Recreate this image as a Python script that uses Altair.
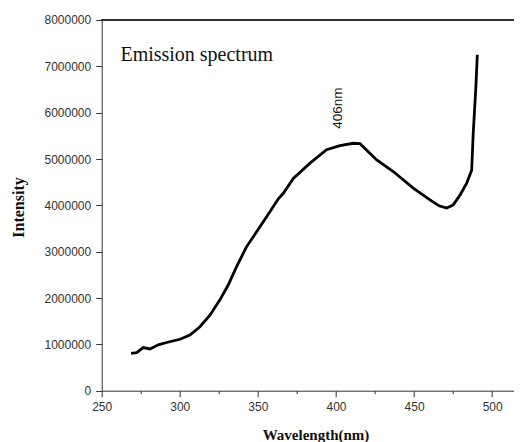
import altair as alt
import pandas as pd

# Spectrum (wavelength in nm, intensity in counts)
wavelength = [268.8, 272.4, 276.6, 280.9, 286.2, 291.6, 300.1, 306.5, 312.9, 319.3,
              325.7, 331.0, 336.4, 342.8, 349.2, 357.7, 363.1, 366.3, 372.7, 383.4,
              394.0, 402.6, 411.1, 415.4, 426.1, 436.7, 449.5, 460.2, 466.0, 470.9,
              475.1, 479.4, 483.7, 486.9, 487.9, 489.6, 490.5]
intensity = [807000, 820000, 930000, 900000, 990000, 1040000, 1110000, 1200000, 1380000, 1630000,
             1960000, 2280000, 2680000, 3110000, 3430000, 3860000, 4140000, 4260000, 4580000, 4910000,
             5200000, 5290000, 5340000, 5330000, 4980000, 4730000, 4370000, 4120000, 3990000, 3940000,
             4010000, 4220000, 4480000, 4760000, 5560000, 6560000, 7250000]

x_ticks = [250, 275, 300, 325, 350, 375, 400, 425, 450, 475, 500]
y_ticks = [0, 500000, 1000000, 1500000, 2000000, 2500000, 3000000, 3500000, 4000000,
           4500000, 5000000, 5500000, 6000000, 6500000, 7000000, 7500000, 8000000]

label_text = ["Emission spectrum"]
label_x = [262.0]
label_y = [7240000]

peak_text = ["406nm"]
peak_x = [401.5]
peak_y = [6100000]

x_domain = [250, 513.8]
y_domain = [0, 8000000]

df = pd.DataFrame({"w": wavelength, "i": intensity})
df_label = pd.DataFrame({"t": label_text, "w": label_x, "i": label_y})
df_peak = pd.DataFrame({"t": peak_text, "w": peak_x, "i": peak_y})

W = 412
H = 370.7

x_axis = alt.Axis(
    values=x_ticks, format="d", labelFlush=False,
    labelExpr="datum.value % 50 === 0 ? datum.label : ''",
    tickSize={"condition": {"test": "datum.value % 50 === 0", "value": 6}, "value": 3},
    labelPadding=5,
    title="Wavelength(nm)", titleFont="Liberation Serif", titleFontWeight="bold",
    titleFontSize=15, titleColor="#111",
    titleX=213.8, titleY=37, titleAlign="center", titleBaseline="top",
)
y_axis = alt.Axis(
    values=y_ticks, format="d", labelFlush=False,
    labelExpr="datum.value % 1000000 === 0 ? datum.label : ''",
    tickSize={"condition": {"test": "datum.value % 1000000 === 0", "value": 6}, "value": 3},
    labelPadding=5,
    title="Intensity", titleFont="Liberation Serif", titleFontWeight="bold",
    titleFontSize=16, titleColor="#111",
    titleX=-83.2, titleY=187, titleAngle=270, titleAlign="center", titleBaseline="middle",
)

xs = alt.Scale(domain=x_domain, nice=False, zero=False)
ys = alt.Scale(domain=y_domain, nice=False)

line = alt.Chart(df).mark_line(color="black", strokeWidth=2.8, clip=True).encode(
    x=alt.X("w:Q", scale=xs, axis=x_axis),
    y=alt.Y("i:Q", scale=ys, axis=y_axis),
)

top_frame = alt.Chart(df).mark_rule(color="#333", strokeWidth=1).encode(
    x=alt.value(0), x2=alt.value(W), y=alt.value(0)
)

label = alt.Chart(df_label).mark_text(
    font="Liberation Serif", fontSize=20, align="left", baseline="middle", color="#111"
).encode(x=alt.X("w:Q", scale=xs), y=alt.Y("i:Q", scale=ys), text="t:N")

peak = alt.Chart(df_peak).mark_text(
    font="Liberation Sans", fontSize=13.5, angle=270, align="center", baseline="middle", color="#111"
).encode(x=alt.X("w:Q", scale=xs), y=alt.Y("i:Q", scale=ys), text="t:N")

chart = alt.layer(line, top_frame, label, peak).properties(
    width=W, height=H,
    padding={"left": 93.7, "top": 12, "right": 0, "bottom": 52},
    autosize=alt.AutoSizeParams(type="none"),
).configure_view(strokeOpacity=0).configure_axis(
    grid=False, domainColor="#333", tickColor="#333", labelColor="#333",
    labelFont="Liberation Sans", labelFontSize=12, domainWidth=1, tickWidth=1,
)

chart.save("out.html", embed_options={"renderer": "svg", "actions": False})
